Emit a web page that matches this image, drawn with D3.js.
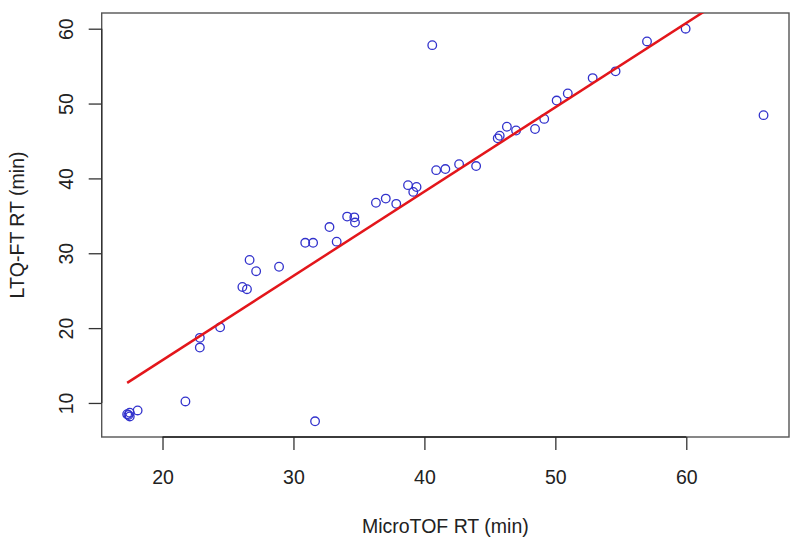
<!DOCTYPE html>
<html>
<head>
<meta charset="utf-8">
<script src="https://cdn.jsdelivr.net/npm/d3@7"></script>
<style>
  body { margin: 0; background: #fff; }
  text { font-family: "Liberation Sans", Arial, sans-serif; fill: #222; }
</style>
</head>
<body>
<svg id="chart" width="800" height="548"></svg>
<script>
// retention times (min)
var microtof = [17.3, 17.5, 17.5, 17.4, 18.1, 21.75, 22.85, 22.85, 24.4, 26.1,
  26.45, 26.65, 27.15, 28.9, 30.9, 31.5, 31.65, 32.75, 33.3, 34.1,
  34.65, 34.7, 36.3, 37.05, 37.85, 38.75, 39.15, 39.4, 40.6, 40.9,
  41.6, 42.65, 43.95, 45.6, 45.75, 46.3, 47.0, 48.45, 49.15, 50.1,
  50.95, 52.85, 54.6, 57.0, 59.95, 65.9];
var ltqft = [8.5, 8.2, 8.7, 8.4, 9.0, 10.2, 18.7, 17.4, 20.1, 25.5,
  25.2, 29.1, 27.6, 28.2, 31.4, 31.4, 7.55, 33.5, 31.55, 34.9,
  34.8, 34.1, 36.75, 37.3, 36.6, 39.1, 38.2, 38.85, 57.8, 41.1,
  41.25, 41.9, 41.65, 45.35, 45.7, 46.9, 46.4, 46.6, 47.95, 50.4,
  51.35, 53.4, 54.3, 58.3, 60.0, 48.45];
var xTicks = [20, 30, 40, 50, 60];
var yTicks = [10, 20, 30, 40, 50, 60];
// fitted line
var fitIntercept = -6.8;
var fitSlope = 1.126;

var svg = d3.select("#chart");
var pLeft = 101.7, pRight = 789, pTop = 13, pBottom = 437;

// R style: 4% padding on each side of the data range
function padded(v) {
  var e = d3.extent(v), p = (e[1] - e[0]) * 0.04;
  return [e[0] - p, e[1] + p];
}

var x = d3.scaleLinear().domain(padded(microtof)).range([pLeft, pRight]);
var y = d3.scaleLinear().domain(padded(ltqft)).range([pBottom, pTop]);

svg.append("defs").append("clipPath")
    .attr("id", "plotclip")
  .append("rect")
    .attr("x", pLeft).attr("y", pTop)
    .attr("width", pRight - pLeft).attr("height", pBottom - pTop);

// box
svg.append("rect")
    .attr("x", pLeft).attr("y", pTop)
    .attr("width", pRight - pLeft).attr("height", pBottom - pTop)
    .attr("fill", "none")
    .attr("stroke", "#555")
    .attr("stroke-width", 1.4);

// axes
var xAxis = svg.append("g")
    .attr("transform", "translate(0," + pBottom + ")")
    .call(d3.axisBottom(x).tickValues(xTicks).tickSize(13).tickPadding(21));
var yAxis = svg.append("g")
    .attr("transform", "translate(" + pLeft + ",0)")
    .call(d3.axisLeft(y).tickValues(yTicks).tickSize(13).tickPadding(8));

[xAxis, yAxis].forEach(function(a) {
  a.select(".domain").remove();
  a.selectAll(".tick line").attr("stroke", "#333").attr("stroke-width", 1.3);
  a.selectAll("text").style("font-size", "19.5px").attr("fill", "#222");
});
xAxis.selectAll("text").attr("dy", 0).attr("y", 47);

yAxis.selectAll(".tick text")
    .attr("x", null).attr("dy", null)
    .attr("text-anchor", "middle")
    .attr("transform", "translate(-29,0) rotate(-90)");

// axis lines from first to last tick, like R
svg.append("line")
    .attr("x1", x(xTicks[0])).attr("x2", x(xTicks[xTicks.length - 1]))
    .attr("y1", pBottom).attr("y2", pBottom)
    .attr("stroke", "#222").attr("stroke-width", 1.4);
svg.append("line")
    .attr("x1", pLeft).attr("x2", pLeft)
    .attr("y1", y(yTicks[0])).attr("y2", y(yTicks[yTicks.length - 1]))
    .attr("stroke", "#333").attr("stroke-width", 1.4);

// axis titles
svg.append("text")
    .attr("x", (pLeft + pRight) / 2)
    .attr("y", 533)
    .attr("text-anchor", "middle")
    .style("font-size", "19.5px")
    .text("MicroTOF RT (min)");
svg.append("text")
    .attr("transform", "translate(24," + ((pTop + pBottom) / 2) + ") rotate(-90)")
    .attr("text-anchor", "middle")
    .style("font-size", "19.5px")
    .text("LTQ-FT RT (min)");

// points
svg.append("g")
    .attr("class", "points")
  .selectAll("circle")
  .data(microtof)
  .enter().append("circle")
    .attr("cx", function(d) { return x(d); })
    .attr("cy", function(d, i) { return y(ltqft[i]); })
    .attr("r", 4.3)
    .attr("fill", "none")
    .attr("stroke", "#3232cc")
    .attr("stroke-width", 1.3);

// regression line over the data range, clipped to the plot
var xr = d3.extent(microtof);
svg.append("line")
    .attr("clip-path", "url(#plotclip)")
    .attr("x1", x(xr[0])).attr("y1", y(fitIntercept + fitSlope * xr[0]))
    .attr("x2", x(xr[1])).attr("y2", y(fitIntercept + fitSlope * xr[1]))
    .attr("stroke", "#e3161b")
    .attr("stroke-width", 2.5);
</script>
</body>
</html>
